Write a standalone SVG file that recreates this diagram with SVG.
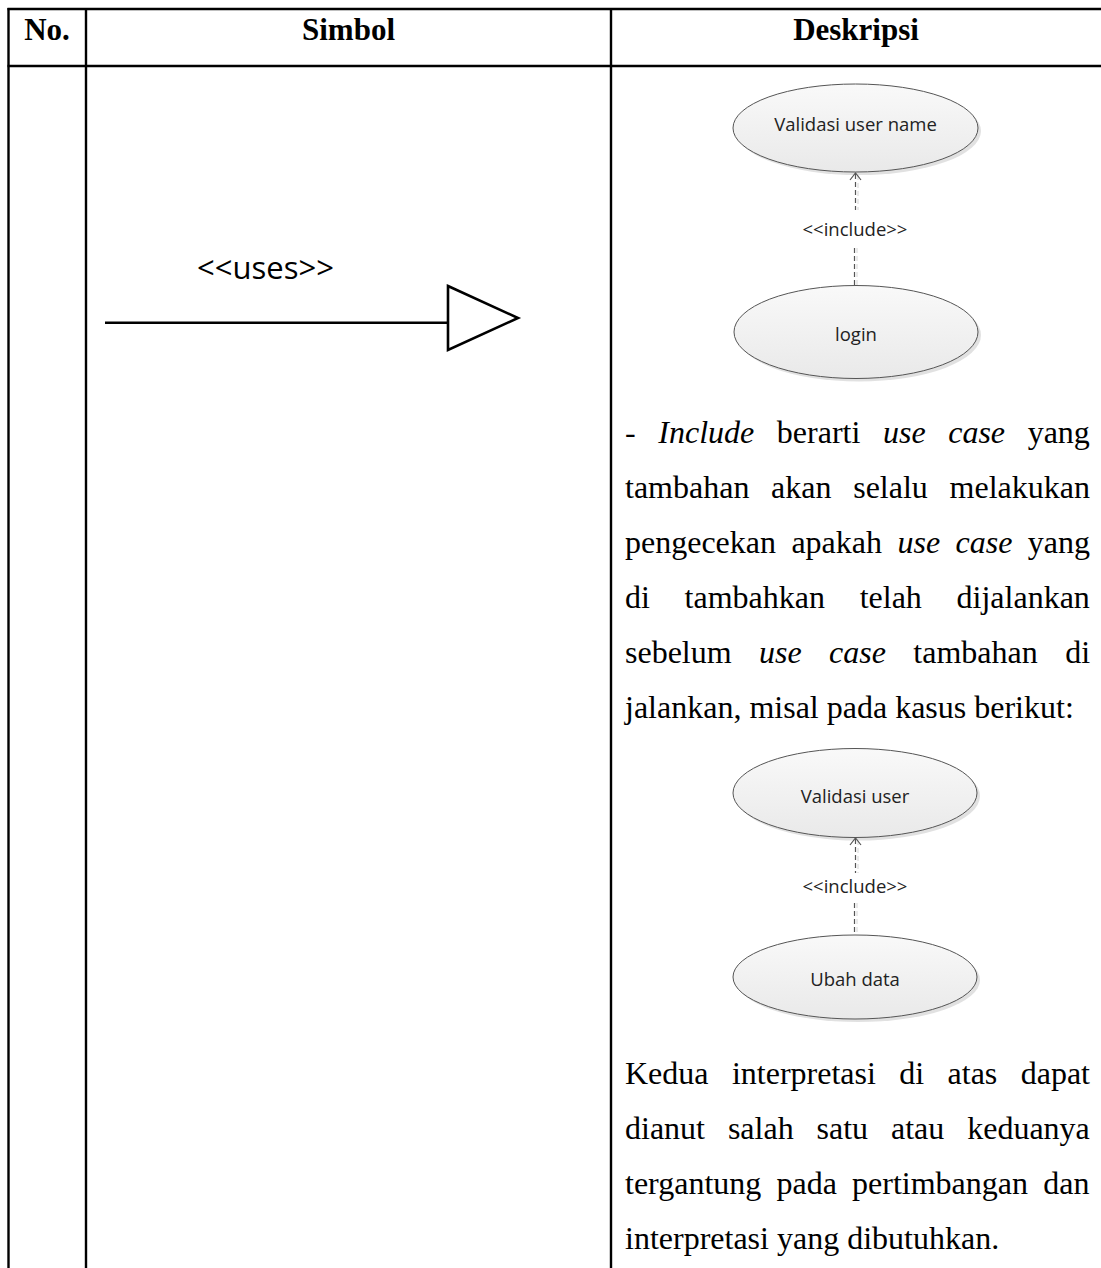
<svg xmlns="http://www.w3.org/2000/svg" width="1101" height="1268" viewBox="0 0 1101 1268">
<style>
.grid{stroke:#000;stroke-width:2.4;fill:none}
.hdr{font-family:"Liberation Serif","Times New Roman",serif;font-weight:bold;font-size:31px;fill:#000;text-anchor:middle}
.para{font-family:"Liberation Serif","Times New Roman",serif;font-size:32px;fill:#000}
.it{font-style:italic}
.uc{fill:url(#ucfill);stroke:#555;stroke-width:1}
.ucsh{fill:#d4d4d4;stroke:none;opacity:0.7}
.lbl{font-family:"Open Sans","Liberation Sans",sans-serif;font-size:18.5px;fill:#222;text-anchor:middle}
.dash{stroke:#555;stroke-width:1.2;stroke-dasharray:5,3;fill:none}
.dashsh{stroke:#ddd;stroke-width:1.2;stroke-dasharray:5,3;fill:none}
.arr{stroke:#555;stroke-width:1.2;fill:none}
.sym{stroke:#000;stroke-width:2.6;fill:none}
.uses{font-family:"Open Sans","Liberation Sans",sans-serif;font-size:31px;fill:#000}
</style>
<defs>
<linearGradient id="ucfill" x1="0" y1="0" x2="0" y2="1">
<stop offset="0" stop-color="#f9f9f9"/>
<stop offset="1" stop-color="#e9e9e9"/>
</linearGradient>
</defs>
<rect width="1101" height="1268" fill="#fff"/>
<g id="table">
<line class="grid" x1="7.5" y1="9" x2="1101" y2="9"/>
<line class="grid" x1="7.5" y1="66" x2="1101" y2="66"/>
<line class="grid" x1="8.5" y1="8" x2="8.5" y2="1268"/>
<line class="grid" x1="86" y1="8" x2="86" y2="1268"/>
<line class="grid" x1="611" y1="8" x2="611" y2="1268"/>
<text class="hdr" x="47" y="40">No.</text>
<text class="hdr" x="348.5" y="40">Simbol</text>
<text class="hdr" x="856" y="40">Deskripsi</text>
</g>
<g id="symbol-uses">
<line class="sym" x1="105" y1="322.7" x2="448" y2="322.7"/>
<polygon class="sym" points="448,286 518,318 448,350" stroke-linejoin="miter"/>
<text class="uses" x="197" y="279">&lt;&lt;uses&gt;&gt;</text>
</g>
<g id="uc-validasi-user-name">
<ellipse class="ucsh" cx="858.5" cy="131" rx="122.5" ry="44"/>
<ellipse class="uc" cx="855.5" cy="128" rx="122.5" ry="44"/>
<text class="lbl" x="855.5" y="131">Validasi user name</text>
</g>
<g id="uc-login">
<ellipse class="ucsh" cx="859" cy="335" rx="122" ry="46.5"/>
<ellipse class="uc" cx="856" cy="332" rx="122" ry="46.5"/>
<text class="lbl" x="856" y="341">login</text>
</g>
<g id="uc-validasi-user">
<ellipse class="ucsh" cx="858" cy="796" rx="122" ry="44.5"/>
<ellipse class="uc" cx="855" cy="793" rx="122" ry="44.5"/>
<text class="lbl" x="855" y="803">Validasi user</text>
</g>
<g id="uc-ubah-data">
<ellipse class="ucsh" cx="858" cy="980" rx="122" ry="42"/>
<ellipse class="uc" cx="855" cy="977" rx="122" ry="42"/>
<text class="lbl" x="855" y="986">Ubah data</text>
</g>
<g id="connectors">
<line class="dashsh" x1="858" y1="175" x2="858" y2="210"/>
<line class="dash" x1="855.5" y1="174" x2="855.5" y2="210"/>
<line class="dashsh" x1="857" y1="248" x2="857" y2="285"/>
<line class="dash" x1="854.5" y1="248" x2="854.5" y2="285"/>
<polyline class="arr" points="850,180 855.5,173 861,180"/>
<text class="lbl" x="855" y="236">&lt;&lt;include&gt;&gt;</text>
<line class="dashsh" x1="858" y1="840" x2="858" y2="873"/>
<line class="dash" x1="855.5" y1="839" x2="855.5" y2="873"/>
<line class="dashsh" x1="857" y1="903" x2="857" y2="935"/>
<line class="dash" x1="854.5" y1="903" x2="854.5" y2="935"/>
<polyline class="arr" points="850,845 855.5,838 861,845"/>
<text class="lbl" x="855" y="893">&lt;&lt;include&gt;&gt;</text>
</g>
<g id="desc-text">
<text class="para" x="625" y="443" word-spacing="14.6">- <tspan class="it">Include</tspan> berarti <tspan class="it">use case</tspan> yang</text>
<text class="para" x="625" y="498" word-spacing="13.7">tambahan akan selalu melakukan</text>
<text class="para" x="625" y="553" word-spacing="7.4">pengecekan apakah <tspan class="it">use case</tspan> yang</text>
<text class="para" x="625" y="608" word-spacing="26.7">di tambahkan telah dijalankan</text>
<text class="para" x="625" y="663" word-spacing="19.4">sebelum <tspan class="it">use case</tspan> tambahan di</text>
<text class="para" x="625" y="718">jalankan, misal pada kasus berikut:</text>
<text class="para" x="625" y="1084" word-spacing="15.4">Kedua interpretasi di atas dapat</text>
<text class="para" x="625" y="1139" word-spacing="14.9">dianut salah satu atau keduanya</text>
<text class="para" x="625" y="1194" word-spacing="7.2">tergantung pada pertimbangan dan</text>
<text class="para" x="625" y="1249">interpretasi yang dibutuhkan.</text>
</g>
</svg>
